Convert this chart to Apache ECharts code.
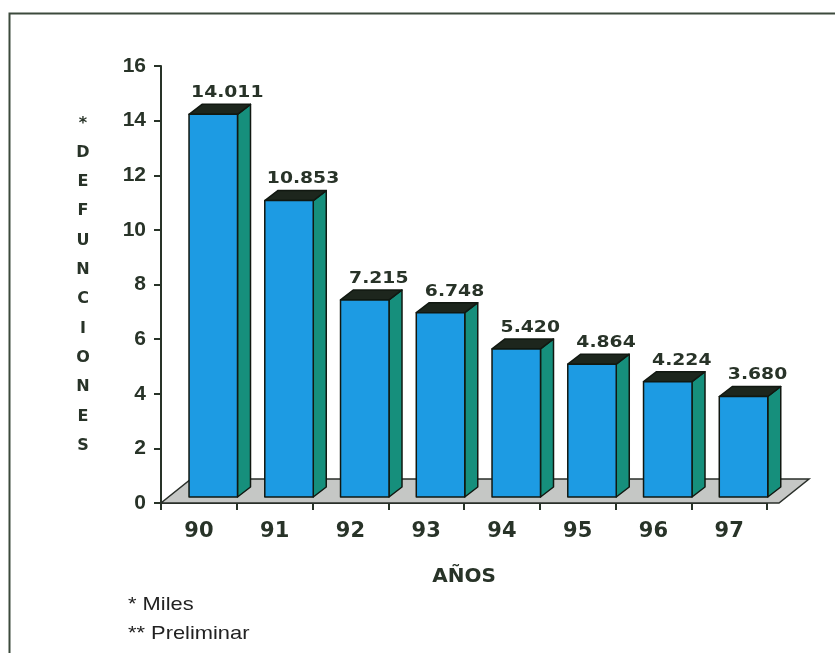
<!DOCTYPE html>
<html>
<head>
<meta charset="utf-8">
<script src="https://cdn.jsdelivr.net/npm/echarts@6/dist/echarts.min.js"></script>
<style>
  html, body { margin: 0; padding: 0; background: #ffffff; }
  #chart { width: 835px; height: 653px; }
</style>
</head>
<body>
<div id="chart"></div>
<script>
// Deaths per year (thousands)
const years = ['90', '91', '92', '93', '94', '95', '96', '97'];
const deaths = [14.011, 10.853, 7.215, 6.748, 5.420, 4.864, 4.224, 3.680];
const yMin = 0;
const yMax = 16;
const yStep = 2;
const yTitle = '*DEFUNCIONES';
const xTitle = 'AÑOS';
const notes = ['* Miles', '** Preliminar'];

const INK = '#283328';
const FRONT = '#1d9be3';
const SIDE = '#168f7c';
const TOP = '#1d261d';

// 3D depth of each column and of the floor slab
const BAR_DX = 13, BAR_DY = 10, BAR_LIFT = 6;
const FLOOR_DX = 30, FLOOR_DY = 24;

function renderFloor(params, api) {
  const cs = params.coordSys;
  const y0 = cs.y + cs.height;
  const xl = cs.x, xr = cs.x + cs.width + 12;
  return {
    type: 'polygon',
    shape: { points: [[xl, y0], [xr, y0], [xr + FLOOR_DX, y0 - FLOOR_DY], [xl + FLOOR_DX, y0 - FLOOR_DY]] },
    style: { fill: '#c5c7c5', stroke: '#2a2f2a', lineWidth: 1.5 }
  };
}

function renderBar(params, api) {
  const i = api.value(0);
  const v = api.value(1);
  const base = api.coord([i, 0]);
  const top = api.coord([i, v]);
  const band = api.size([1, 0])[0];
  const w = band * 0.64;
  const x0 = base[0] - band * 0.13;
  const yb = base[1] - BAR_LIFT;
  const yt = top[1] - BAR_LIFT;
  const edge = { stroke: '#111811', lineWidth: 1.5, lineJoin: 'round' };
  return {
    type: 'group',
    children: [
      {
        type: 'polygon',
        shape: { points: [[x0 + w, yb], [x0 + w + BAR_DX, yb - BAR_DY], [x0 + w + BAR_DX, yt - BAR_DY], [x0 + w, yt]] },
        style: Object.assign({ fill: SIDE }, edge)
      },
      {
        type: 'polygon',
        shape: { points: [[x0, yt], [x0 + BAR_DX, yt - BAR_DY], [x0 + w + BAR_DX, yt - BAR_DY], [x0 + w, yt]] },
        style: Object.assign({ fill: TOP }, edge)
      },
      {
        type: 'rect',
        shape: { x: x0, y: yt, width: w, height: yb - yt },
        style: Object.assign({ fill: FRONT }, edge)
      },
      {
        type: 'text',
        x: x0 + w / 2 + 14,
        y: yt - BAR_DY - 11,
        scaleX: 1.25,
        style: {
          text: v.toFixed(3),
          align: 'center',
          verticalAlign: 'middle',
          fontFamily: 'DejaVu Sans',
          fontWeight: 'bold',
          fontSize: 15,
          fill: INK
        }
      }
    ]
  };
}

const chart = echarts.init(document.getElementById('chart'), null, { renderer: 'canvas' });

chart.setOption({
  animation: false,
  backgroundColor: '#ffffff',
  grid: { left: 161, right: 68, top: 66, bottom: 150 },
  xAxis: {
    type: 'category',
    data: years,
    name: xTitle,
    nameLocation: 'middle',
    nameGap: 64,
    nameTextStyle: { fontFamily: 'DejaVu Sans', fontWeight: 'bold', fontSize: 20, color: INK },
    axisLine: { lineStyle: { color: INK, width: 2 } },
    axisTick: { show: true, length: 7, lineStyle: { color: INK, width: 2 } },
    axisLabel: { margin: 18, fontFamily: 'DejaVu Sans', fontWeight: 'bold', fontSize: 21, color: INK },
    splitLine: { show: false }
  },
  yAxis: {
    type: 'value',
    min: yMin,
    max: yMax,
    interval: yStep,
    name: yTitle.split('').join('\n'),
    nameLocation: 'middle',
    nameRotate: 0,
    nameGap: 78,
    nameTextStyle: { fontFamily: 'DejaVu Sans', fontWeight: 'bold', fontSize: 16, lineHeight: 29.3, color: INK, align: 'center' },
    axisLine: { show: true, lineStyle: { color: INK, width: 2 } },
    axisTick: { show: true, length: 7, lineStyle: { color: INK, width: 2 } },
    axisLabel: { margin: 15, fontFamily: 'Liberation Sans', fontWeight: 'bold', fontSize: 21, color: INK },
    splitLine: { show: false }
  },
  series: [
    {
      type: 'custom',
      renderItem: renderFloor,
      data: [[0, 0]],
      z: 1,
      silent: true
    },
    {
      type: 'custom',
      renderItem: renderBar,
      data: deaths.map((v, i) => [i, v]),
      encode: { x: 0, y: 1 },
      z: 2
    }
  ],
  graphic: [
    {
      type: 'rect',
      left: 7, top: 11,
      shape: { width: 850, height: 660 },
      style: { fill: 'none', stroke: '#3c4a3c', lineWidth: 2 },
      z: 0
    },
    {
      type: 'text',
      left: 128, top: 595,
      scaleX: 1.15,
      style: { text: notes[0], fontFamily: 'Liberation Sans', fontSize: 19, fill: '#222222' }
    },
    {
      type: 'text',
      left: 128, top: 624,
      scaleX: 1.15,
      style: { text: notes[1], fontFamily: 'Liberation Sans', fontSize: 19, fill: '#222222' }
    }
  ]
});
</script>
</body>
</html>
